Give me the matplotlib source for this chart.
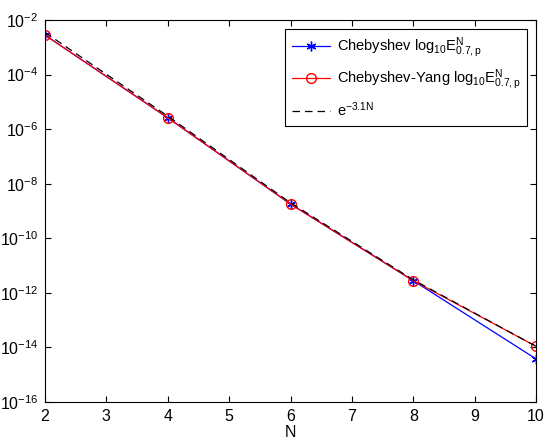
import numpy as np
import matplotlib
matplotlib.use("Agg")
import matplotlib.pyplot as plt

plt.rcParams['font.family'] = ['Liberation Sans', 'DejaVu Sans']
plt.rcParams['mathtext.fontset'] = 'custom'
plt.rcParams['mathtext.rm'] = 'Liberation Sans'
plt.rcParams['mathtext.it'] = 'Liberation Sans'

# values
n_vals = [2, 4, 6, 8, 10]
cheb = [2.8e-3, 2.6e-6, 1.8e-9, 2.8e-12, 3.8e-15]
cheb_yang = [2.8e-3, 2.6e-6, 1.8e-9, 2.8e-12, 1.1e-14]
exp_ref = [3.5e-3, 3.0e-6, 2.0e-9, 3.0e-12, 1.1e-14]

y_ticks = [1e-16, 1e-14, 1e-12, 1e-10, 1e-8, 1e-6, 1e-4, 1e-2]
y_labels = [r'$\mathregular{10^{-%d}}$' % k for k in [16, 14, 12, 10, 8, 6, 4, 2]]

fig = plt.figure(figsize=(5.44, 4.41), dpi=100)
ax = fig.add_axes([45 / 544, 39 / 441, 491 / 544, 382 / 441])

ax.semilogy(n_vals, cheb, color='#0000ff', marker=(6, 2, 0), ms=7, mew=1.0,
            lw=0.9, label=r'Chebyshev log$\mathregular{_{10}E^{N}_{0.7,p}}$')
ax.semilogy(n_vals, cheb_yang, color='#ff0000', marker='o', ms=7, mfc='none',
            lw=0.9, label=r'Chebyshev-Yang log$\mathregular{_{10}E^{N}_{0.7,p}}$')
ax.semilogy(n_vals, exp_ref, color='black', ls=(0, (6, 4)), lw=0.9,
            label=r'$\mathregular{e^{-3.1N}}$')

ax.set_xlim(2, 10)
ax.set_ylim(1e-16, 1e-2)
ax.set_yticks(y_ticks)
ax.set_yticklabels(y_labels)
ax.yaxis.set_minor_locator(matplotlib.ticker.NullLocator())
ax.set_xticks(range(2, 11))
ax.tick_params(direction='in', top=True, right=True, labelsize=11.5, length=4,
               width=0.8, pad=5)
ax.get_xticklabels()[-1].set_horizontalalignment('center')
for s in ax.spines.values():
    s.set_linewidth(0.8)
ax.set_xlabel('N', fontsize=11.5, labelpad=1)

leg = ax.legend(loc='upper right', fontsize=10.5, fancybox=False, framealpha=1,
                edgecolor='black', borderaxespad=0.6, handlelength=2.6,
                handletextpad=0.5, labelspacing=0.55, borderpad=0.45)
leg.get_frame().set_linewidth(0.8)

fig.savefig('out.png', dpi=100)
